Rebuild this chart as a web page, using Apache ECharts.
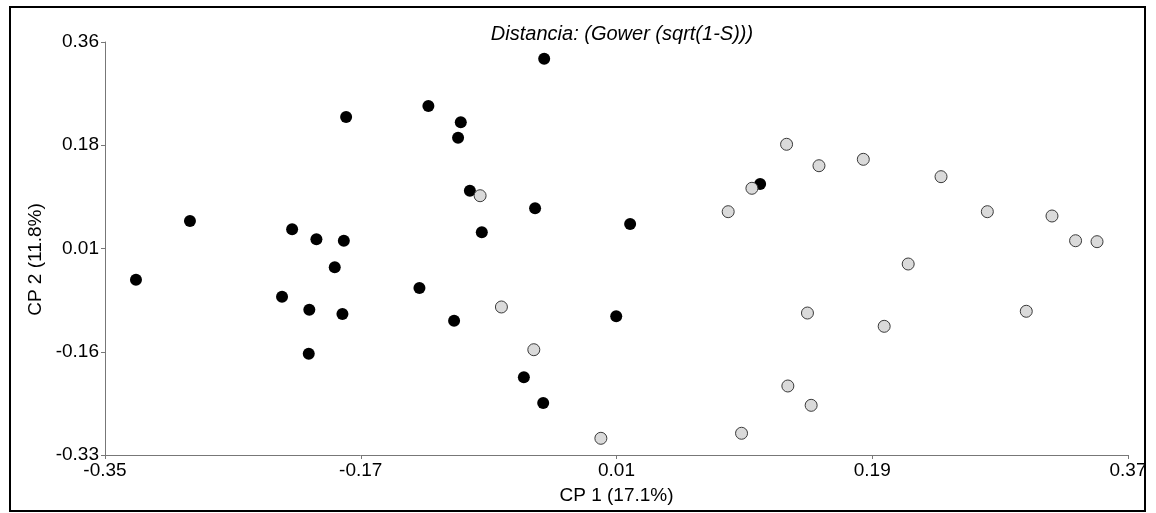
<!DOCTYPE html>
<html>
<head>
<meta charset="utf-8">
<script src="https://cdn.jsdelivr.net/npm/echarts@6/dist/echarts.min.js"></script>
<style>
html,body{margin:0;padding:0;background:#fff;}
#chart{width:1156px;height:513px;}
</style>
</head>
<body>
<div id="chart"></div>
<script>
// Group 1 (black dots): [CP1, CP2]
const blackX = [-0.0409,-0.1224,-0.1803,-0.0996,-0.1015,-0.0932,-0.0473,-0.2902,-0.2183,-0.2012,-0.1819,-0.0848,0.0196,-0.3282,-0.1883,-0.1287,-0.2254,-0.2062,-0.1829,-0.1043,0.0098,-0.2066,-0.0552,-0.0416,0.1111];
const blackY = [0.3321,0.2531,0.2347,0.2258,0.2001,0.1116,0.0822,0.0609,0.0471,0.0304,0.0280,0.0421,0.0559,-0.0371,-0.0164,-0.0510,-0.0655,-0.0873,-0.0944,-0.1056,-0.0983,-0.1608,-0.2002,-0.2431,0.1228];
// Group 2 (grey dots)
const greyX = [0.1297,0.1525,0.1837,0.2384,0.1053,0.0886,0.2710,0.3165,0.3331,0.3482,0.2153,-0.0860,-0.0710,0.1444,0.1984,0.2984,-0.0482,0.1306,0.1470,-0.0010,0.0980];
const greyY = [0.1891,0.1533,0.1640,0.1350,0.1156,0.0765,0.0765,0.0693,0.0280,0.0264,-0.0109,0.1032,-0.0827,-0.0928,-0.1150,-0.0899,-0.1541,-0.2147,-0.2470,-0.3021,-0.2937];

const xTicks = [-0.35,-0.17,0.01,0.19,0.37];
const xTickLabels = ['-0.35','-0.17','0.01','0.19','0.37'];
const yTickLabels = ['-0.33','-0.16','0.01','0.18','0.36'];
const yMin = -0.33, yMax = 0.36;

const titleText = 'Distancia: (Gower (sqrt(1-S)))';
const xName = 'CP 1 (17.1%)';
const yName = 'CP 2 (11.8%)';

const yTicks = yTickLabels.map((_, i) => yMin + i * (yMax - yMin) / (yTickLabels.length - 1));

function pairs(xs, ys){ return xs.map((x,i)=>[x, ys[i]]); }
function nearestLabel(ticks, labels, v){
  let best = 0;
  for (let i=1;i<ticks.length;i++) if (Math.abs(ticks[i]-v) < Math.abs(ticks[best]-v)) best = i;
  return labels[best];
}

const FONT = 'Liberation Sans, Arial, sans-serif';
const chart = echarts.init(document.getElementById('chart'), null, {renderer:'canvas'});
chart.setOption({
  animation:false,
  backgroundColor:'#fff',
  title:{
    text:titleText, left:617, top:19, textAlign:'center',
    textStyle:{fontFamily:FONT, fontSize:20, fontStyle:'italic', fontWeight:'normal', color:'#000'}
  },
  graphic:[{
    type:'rect', silent:true, z:-1,
    shape:{x:10,y:7,width:1135,height:504},
    style:{fill:'none', stroke:'#000', lineWidth:2}
  }],
  grid:{left:105,right:28,top:42,bottom:58, containLabel:false, outerBoundsMode:'none'},
  xAxis:{
    type:'value', min:-0.35, max:0.37,
    splitLine:{show:false},
    axisLine:{show:true, onZero:false, lineStyle:{color:'#777', width:1}},
    axisTick:{show:true, length:4, customValues:xTicks, lineStyle:{color:'#777'}},
    axisLabel:{customValues:xTicks, margin:6, fontFamily:FONT, fontSize:19, color:'#000',
      formatter:(v)=>nearestLabel(xTicks, xTickLabels, v)},
    name:xName, nameLocation:'middle', nameGap:31,
    nameTextStyle:{fontFamily:FONT, fontSize:19, color:'#000'}
  },
  yAxis:{
    type:'value', min:yMin, max:yMax,
    splitLine:{show:false},
    axisLine:{show:true, onZero:false, lineStyle:{color:'#777', width:1}},
    axisTick:{show:true, length:4, customValues:yTicks, lineStyle:{color:'#777'}},
    axisLabel:{customValues:yTicks, margin:6, fontFamily:FONT, fontSize:19, color:'#000',
      formatter:(v)=>nearestLabel(yTicks, yTickLabels, v)},
    name:yName, nameLocation:'middle', nameGap:52, nameRotate:90,
    nameTextStyle:{fontFamily:FONT, fontSize:19, color:'#000', padding:[0,22,0,0]}
  },
  series:[
    {type:'scatter', name:'g1', data:pairs(blackX, blackY), symbol:'circle', symbolSize:12,
     itemStyle:{color:'#000', borderColor:'#000', borderWidth:0, opacity:1}},
    {type:'scatter', name:'g2', data:pairs(greyX, greyY), symbol:'circle', symbolSize:12,
     itemStyle:{color:'#dadada', borderColor:'#3a3a3a', borderWidth:1, opacity:1}}
  ]
});
</script>
</body>
</html>
